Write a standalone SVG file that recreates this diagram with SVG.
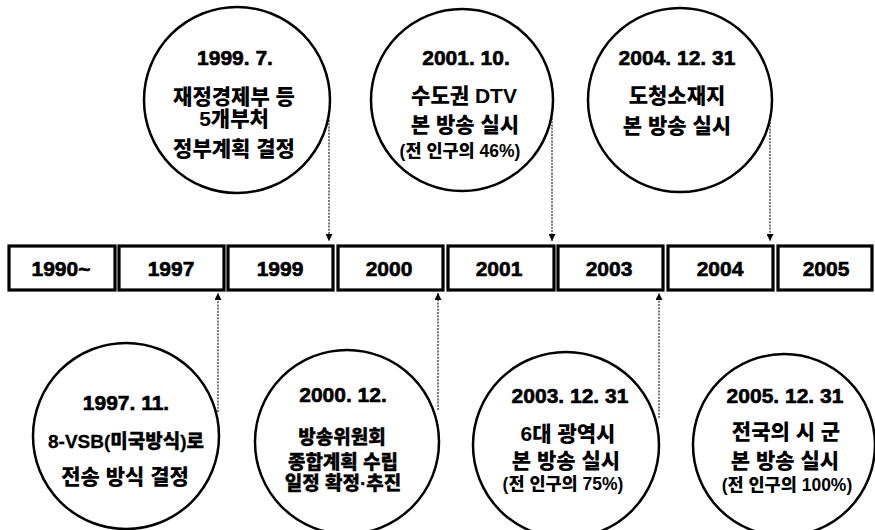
<svg xmlns="http://www.w3.org/2000/svg" width="875" height="530" viewBox="0 0 875 530">
<defs>
<style>
.c{fill:#fff;stroke:#000;stroke-width:2.5}
.b{fill:#fff;stroke:#000;stroke-width:3.2}
text{font-family:"Liberation Sans","Noto Sans CJK KR",sans-serif;font-weight:900;text-anchor:middle;fill:#000}
.y{font-size:21px;stroke:#000;stroke-width:0.6}
.d{font-size:21px;stroke:#000;stroke-width:0.6}
.k{font-size:21px}
.m{font-size:19px;stroke:#000;stroke-width:0.3}
.s{font-size:17.5px}
.con{fill:none;stroke:#333;stroke-width:1.3;stroke-dasharray:2 1.2}
</style>
<marker id="ah" viewBox="0 0 10 10" refX="10" refY="5" markerWidth="7" markerHeight="7" markerUnits="userSpaceOnUse" orient="auto">
<path d="M0,0 L10,5 L0,10 z" fill="#000"/>
</marker>
</defs>
<rect width="875" height="530" fill="#fff"/>

<g id="connectors">
<line class="con" x1="329" y1="120" x2="329" y2="241" marker-end="url(#ah)"/>
<line class="con" x1="552" y1="118" x2="552" y2="241" marker-end="url(#ah)"/>
<line class="con" x1="770" y1="122" x2="770" y2="241" marker-end="url(#ah)"/>
<line class="con" x1="218" y1="412" x2="218" y2="293" marker-end="url(#ah)"/>
<line class="con" x1="438" y1="410" x2="438" y2="293" marker-end="url(#ah)"/>
<line class="con" x1="659" y1="418" x2="659" y2="293" marker-end="url(#ah)"/>
</g>

<g id="box-1990"><rect class="b" x="9" y="246" width="106" height="44"/><text class="y" x="61" y="276">1990~</text></g>
<g id="box-1997"><rect class="b" x="119" y="246" width="105" height="44"/><text class="y" x="171" y="276">1997</text></g>
<g id="box-1999"><rect class="b" x="228" y="246" width="105" height="44"/><text class="y" x="280" y="276">1999</text></g>
<g id="box-2000"><rect class="b" x="338" y="246" width="105" height="44"/><text class="y" x="389" y="276">2000</text></g>
<g id="box-2001"><rect class="b" x="448" y="246" width="106" height="44"/><text class="y" x="499" y="276">2001</text></g>
<g id="box-2003"><rect class="b" x="558" y="246" width="105" height="44"/><text class="y" x="609" y="276">2003</text></g>
<g id="box-2004"><rect class="b" x="668" y="246" width="105" height="44"/><text class="y" x="720" y="276">2004</text></g>
<g id="box-2005"><rect class="b" x="778" y="246" width="94" height="44"/><text class="y" x="826" y="276">2005</text></g>

<g id="ev-1999-7">
<circle class="c" cx="237" cy="100" r="93"/>
<text class="d" x="235" y="65">1999. 7.</text>
<text class="k" x="234" y="104">재정경제부 등</text>
<text class="k" x="234" y="126">5개부처</text>
<text class="k" x="234" y="156">정부계획 결정</text>
</g>
<g id="ev-2001-10">
<circle class="c" cx="462" cy="100" r="91"/>
<text class="d" x="466" y="65">2001. 10.</text>
<text class="k" x="464" y="103">수도권 DTV</text>
<text class="k" x="465" y="132">본 방송 실시</text>
<text class="s" x="460" y="157">(전 인구의 46%)</text>
</g>
<g id="ev-2004-12-31">
<circle class="c" cx="680" cy="100" r="92"/>
<text class="d" x="677" y="65">2004. 12. 31</text>
<text class="k" x="677" y="103">도청소재지</text>
<text class="k" x="677" y="133">본 방송 실시</text>
</g>
<g id="ev-1997-11">
<circle class="c" cx="126" cy="436" r="93"/>
<text class="d" x="126" y="410">1997. 11.</text>
<text class="m" x="126" y="448" textLength="156" lengthAdjust="spacingAndGlyphs">8-VSB(미국방식)로</text>
<text class="k" x="125" y="484">전송 방식 결정</text>
</g>
<g id="ev-2000-12">
<circle class="c" cx="347" cy="442" r="92"/>
<text class="d" x="343" y="402">2000. 12.</text>
<text class="m" x="342" y="444">방송위원회</text>
<text class="m" x="343" y="469">종합계획 수립</text>
<text class="m" x="343" y="490">일정 확정·추진</text>
</g>
<g id="ev-2003-12-31">
<circle class="c" cx="566" cy="445" r="93"/>
<text class="d" x="570" y="403">2003. 12. 31</text>
<text class="k" x="568" y="441">6대 광역시</text>
<text class="k" x="566" y="468">본 방송 실시</text>
<text class="s" x="563" y="490">(전 인구의 75%)</text>
</g>
<g id="ev-2005-12-31">
<circle class="c" cx="784" cy="445" r="91"/>
<text class="d" x="785" y="403">2005. 12. 31</text>
<text class="k" x="786" y="439">전국의 시 군</text>
<text class="k" x="785" y="468">본 방송 실시</text>
<text class="s" x="787" y="491">(전 인구의 100%)</text>
</g>
</svg>
